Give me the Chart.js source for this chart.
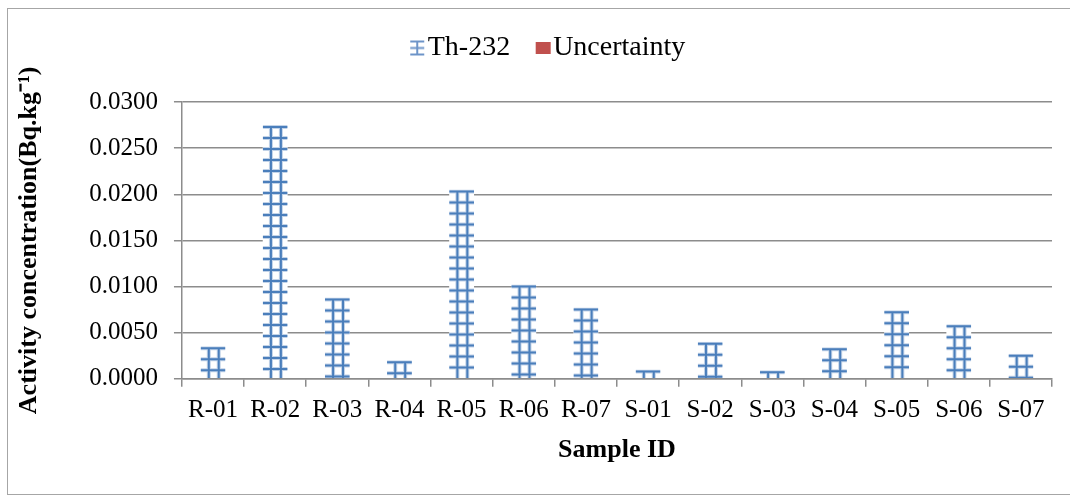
<!DOCTYPE html>
<html>
<head>
<meta charset="utf-8">
<script src="https://cdn.jsdelivr.net/npm/chart.js@4.4.1/dist/chart.umd.min.js"></script>
<style>
  html, body { margin: 0; padding: 0; background: #fff; overflow: hidden; }
  #wrap { position: relative; width: 1070px; height: 495px; overflow: hidden; }
  #frame { position: absolute; left: 7px; top: 8px; width: 1063px; height: 487px; border: 1.5px solid #a6a6a6; border-right: none; box-sizing: border-box; }
  #chart { position: absolute; left: 0; top: 0; }
</style>
</head>
<body>
<div id="wrap">
  <div id="frame"></div>
  <canvas id="chart" width="1070" height="495"></canvas>
</div>
<script>
// Datos
const muestras = ['R-01', 'R-02', 'R-03', 'R-04', 'R-05', 'R-06', 'R-07',
                  'S-01', 'S-02', 'S-03', 'S-04', 'S-05', 'S-06', 'S-07'];
const th232 = [0.0033, 0.0273, 0.0086, 0.0018, 0.0203, 0.0100, 0.0075,
               0.0008, 0.0038, 0.0007, 0.0032, 0.0072, 0.0057, 0.0025];
// la incertidumbre no se ve en las barras
const incertidumbre = [0, 0, 0, 0, 0, 0, 0, 0, 0, 0, 0, 0, 0, 0];
const yTicks = [0, 0.005, 0.01, 0.015, 0.02, 0.025, 0.03];

const serif = "'Liberation Serif', 'Times New Roman', serif";
const azul = '#4a7ebb';

// iconos de la leyenda (lienzo más ancho para acercar el icono al texto)
function iconoTh() {
    const c = document.createElement('canvas');
    c.width = 34; c.height = 17;
    const g = c.getContext('2d');
    g.strokeStyle = '#6d94c8';
    g.lineWidth = 2;
    g.beginPath();
    g.moveTo(14, 2); g.lineTo(28, 2);
    g.moveTo(14, 8.5); g.lineTo(28, 8.5);
    g.moveTo(14, 15); g.lineTo(28, 15);
    g.moveTo(21, 2); g.lineTo(21, 15);
    g.stroke();
    return c;
}
function iconoRojo() {
    const c = document.createElement('canvas');
    c.width = 34; c.height = 12;
    const g = c.getContext('2d');
    g.fillStyle = '#c0504d';
    g.fillRect(14, 0, 15, 12);
    return c;
}

// dibuja la trama de cuadrícula dentro de cada barra
const tramaBarras = {
    id: 'tramaBarras',
    afterDatasetsDraw(chart) {
        const ctx = chart.ctx;
        const meta = chart.getDatasetMeta(0);
        meta.data.forEach(bar => {
            const p = bar.getProps(['x', 'y', 'base', 'width'], true);
            const left = p.x - p.width / 2;
            const right = p.x + p.width / 2;
            ctx.save();
            ctx.beginPath();
            ctx.rect(left, p.y - 2, p.width, p.base - p.y + 2);
            ctx.clip();
            [[4, 'rgba(79,129,189,0.35)'], [2, azul]].forEach(([w, col]) => {
                ctx.lineWidth = w;
                ctx.strokeStyle = col;
                ctx.beginPath();
                for (let yy = p.y; yy < p.base; yy += 11) {
                    ctx.moveTo(left, yy);
                    ctx.lineTo(right, yy);
                }
                [0.33, 0.73].forEach(f => {
                    ctx.moveTo(left + p.width * f, p.y);
                    ctx.lineTo(left + p.width * f, p.base);
                });
                ctx.stroke();
            });
            ctx.restore();
        });
    }
};

// altura fija de la leyenda y un pequeño desplazamiento a la derecha
const ajusteLeyenda = {
    id: 'ajusteLeyenda',
    beforeInit(chart) {
        const fit = chart.legend.fit;
        chart.legend.fit = function () {
            fit.call(this);
            this.height = 96;
        };
    },
    afterLayout(chart) {
        chart.legend.left += 36;
    }
};

new Chart(document.getElementById('chart'), {
    type: 'bar',
    data: {
        labels: muestras,
        datasets: [{
            label: 'Th-232',
            data: th232,
            backgroundColor: '#ffffff',
            borderWidth: 0,
            barPercentage: 0.4,
            categoryPercentage: 1
        }, {
            label: 'Uncertainty',
            data: incertidumbre,
            backgroundColor: '#c0504d',
            borderWidth: 0,
            barPercentage: 0.4,
            categoryPercentage: 1
        }]
    },
    options: {
        responsive: false,
        animation: false,
        layout: { padding: { left: 10, right: 18, top: 6, bottom: 25 } },
        plugins: {
            tooltip: { enabled: false },
            legend: {
                position: 'top',
                labels: {
                    color: '#000',
                    font: { family: serif, size: 28 },
                    usePointStyle: true,
                    pointStyleWidth: 1,
                    padding: 28,
                    generateLabels: () => [
                        { text: 'Th-232', pointStyle: iconoTh(), fillStyle: azul, lineWidth: 0, datasetIndex: 0 },
                        { text: 'Uncertainty', pointStyle: iconoRojo(), fillStyle: '#c0504d', lineWidth: 0, datasetIndex: 1 }
                    ]
                }
            }
        },
        scales: {
            x: {
                stacked: true,
                grid: { offset: true, drawOnChartArea: false, tickLength: 8, color: '#8c8c8c', lineWidth: 1.5 },
                border: { color: '#8c8c8c', width: 1.5 },
                ticks: { color: '#000', font: { family: serif, size: 25 }, padding: 9, maxRotation: 0 },
                title: { display: true, text: 'Sample ID', color: '#000', font: { family: serif, size: 26, weight: 'bold' }, padding: { top: 0, bottom: 4 } }
            },
            y: {
                stacked: true,
                min: 0,
                max: 0.03,
                afterBuildTicks: axis => { axis.ticks = yTicks.map(v => ({ value: v })); },
                grid: { color: '#8c8c8c', lineWidth: 1.5, tickLength: 8 },
                border: { color: '#8c8c8c', width: 1.5 },
                ticks: { color: '#000', font: { family: serif, size: 25 }, padding: 16, callback: v => Number(v).toFixed(4) },
                title: { display: true, text: 'Activity concentration(Bq.kg⁻¹)', color: '#000', font: { family: serif, size: 26, weight: 'bold' }, padding: { top: 4, bottom: 28 } }
            }
        }
    },
    plugins: [tramaBarras, ajusteLeyenda]
});
</script>
</body>
</html>
